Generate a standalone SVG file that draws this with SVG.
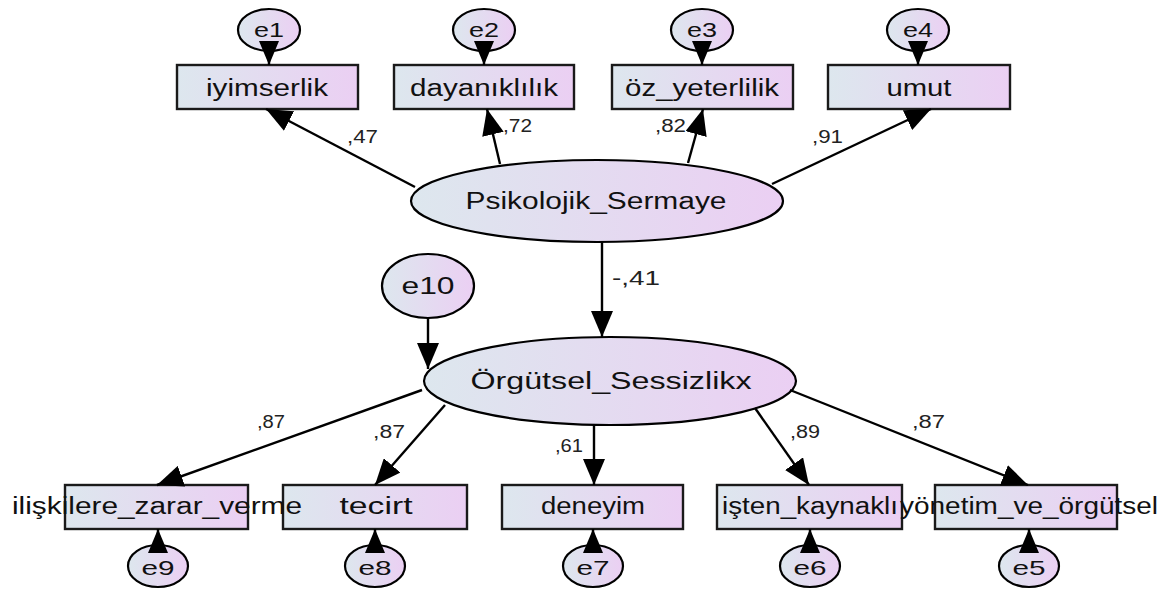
<svg xmlns="http://www.w3.org/2000/svg" width="1162" height="590" viewBox="0 0 1162 590">
<defs>
<linearGradient id="g" x1="0" y1="0" x2="1" y2="0">
<stop offset="0" stop-color="#dde7ee"/>
<stop offset="1" stop-color="#ebcff3"/>
</linearGradient>
<marker id="ah" markerUnits="userSpaceOnUse" markerWidth="26" markerHeight="22" viewBox="0 0 26 22" refX="26" refY="11" orient="auto">
<path d="M0,0 L26,11 L0,22 Z" fill="#000"/>
</marker>
<marker id="ahs" markerUnits="userSpaceOnUse" markerWidth="24" markerHeight="20" viewBox="0 0 24 20" refX="24" refY="10" orient="auto">
<path d="M0,0 L24,10 L0,20 Z" fill="#000"/>
</marker>
<style>
.box{fill:url(#g);stroke:#1a1a1a;stroke-width:2.4}
.el{fill:url(#g);stroke:#000;stroke-width:2.2}
.t{font-family:"Liberation Sans",Arial,sans-serif;font-size:23px;fill:#111;text-anchor:middle}
.s{font-family:"Liberation Sans",Arial,sans-serif;font-size:21px;fill:#111;text-anchor:middle}
.c{font-family:"Liberation Sans",Arial,sans-serif;font-size:18px;fill:#222}
.con line{stroke:#000;stroke-width:2.4;marker-end:url(#ah)}
.con line.er{marker-end:url(#ahs)}
</style>
</defs>
<rect width="1162" height="590" fill="#fff"/>

<g id="e1"><ellipse class="el" cx="269" cy="30" rx="31" ry="21"/><text class="s" x="269" y="37" textLength="30" lengthAdjust="spacingAndGlyphs">e1</text></g>
<g id="e2"><ellipse class="el" cx="484" cy="30" rx="31" ry="21"/><text class="s" x="484" y="37" textLength="30" lengthAdjust="spacingAndGlyphs">e2</text></g>
<g id="e3"><ellipse class="el" cx="702" cy="30" rx="31" ry="21"/><text class="s" x="702" y="37" textLength="30" lengthAdjust="spacingAndGlyphs">e3</text></g>
<g id="e4"><ellipse class="el" cx="918" cy="30" rx="31" ry="21"/><text class="s" x="918" y="37" textLength="30" lengthAdjust="spacingAndGlyphs">e4</text></g>

<g id="iyimserlik"><rect class="box" x="177" y="65" width="181" height="44"/><text class="t" x="267" y="96" textLength="122" lengthAdjust="spacingAndGlyphs">iyimserlik</text></g>
<g id="dayaniklilik"><rect class="box" x="394" y="65" width="180" height="44"/><text class="t" x="484" y="96" textLength="148" lengthAdjust="spacingAndGlyphs">dayanıklılık</text></g>
<g id="oz_yeterlilik"><rect class="box" x="612" y="65" width="181" height="44"/><text class="t" x="702" y="96" textLength="154" lengthAdjust="spacingAndGlyphs">öz_yeterlilik</text></g>
<g id="umut"><rect class="box" x="828" y="65" width="182" height="44"/><text class="t" x="919" y="96" textLength="65" lengthAdjust="spacingAndGlyphs">umut</text></g>

<g id="psikolojik"><ellipse class="el" cx="597" cy="201" rx="186" ry="41"/><text class="t" x="596" y="209" textLength="261" lengthAdjust="spacingAndGlyphs">Psikolojik_Sermaye</text></g>

<g id="e10"><ellipse class="el" cx="428" cy="286" rx="46" ry="32"/><text class="t" x="428" y="294" textLength="53" lengthAdjust="spacingAndGlyphs">e10</text></g>

<g id="orgutsel"><ellipse class="el" cx="610" cy="381" rx="186" ry="44"/><text class="t" x="611" y="389" textLength="281" lengthAdjust="spacingAndGlyphs">Örgütsel_Sessizlikx</text></g>

<g id="tecirt"><rect class="box" x="283" y="485" width="184" height="44"/><text class="t" x="376" y="514" textLength="73" lengthAdjust="spacingAndGlyphs">tecirt</text></g>
<g id="iliskilere"><rect class="box" x="65" y="485" width="183" height="44"/><text class="t" x="157" y="514" textLength="290" lengthAdjust="spacingAndGlyphs">ilişkilere_zarar_verme</text></g>
<g id="deneyim"><rect class="box" x="502" y="485" width="181" height="44"/><text class="t" x="593" y="514" textLength="104" lengthAdjust="spacingAndGlyphs">deneyim</text></g>
<g id="isten"><rect class="box" x="717" y="485" width="185" height="44"/><text class="t" x="810" y="514" textLength="176" lengthAdjust="spacingAndGlyphs">işten_kaynaklı</text></g>
<g id="yonetim"><rect class="box" x="935" y="485" width="182" height="44"/><text class="t" x="1029" y="514" textLength="258" lengthAdjust="spacingAndGlyphs">yönetim_ve_örgütsel</text></g>

<g id="e9"><ellipse class="el" cx="158" cy="566" rx="30" ry="21"/><text class="s" x="158" y="575" textLength="33" lengthAdjust="spacingAndGlyphs">e9</text></g>
<g id="e8"><ellipse class="el" cx="375" cy="566" rx="30" ry="21"/><text class="s" x="375" y="575" textLength="33" lengthAdjust="spacingAndGlyphs">e8</text></g>
<g id="e7"><ellipse class="el" cx="593" cy="566" rx="30" ry="21"/><text class="s" x="593" y="575" textLength="33" lengthAdjust="spacingAndGlyphs">e7</text></g>
<g id="e6"><ellipse class="el" cx="810" cy="566" rx="30" ry="21"/><text class="s" x="810" y="575" textLength="33" lengthAdjust="spacingAndGlyphs">e6</text></g>
<g id="e5"><ellipse class="el" cx="1029" cy="566" rx="30" ry="21"/><text class="s" x="1029" y="575" textLength="33" lengthAdjust="spacingAndGlyphs">e5</text></g>

<g class="con">
<line class="er" x1="269" y1="51" x2="269" y2="65"/>
<line class="er" x1="484" y1="51" x2="484" y2="65"/>
<line class="er" x1="702" y1="51" x2="702" y2="65"/>
<line class="er" x1="918" y1="51" x2="918" y2="65"/>
<line x1="415" y1="187" x2="266" y2="109"/>
<line x1="500" y1="164" x2="487" y2="109"/>
<line x1="688" y1="163" x2="703" y2="109"/>
<line x1="772" y1="184" x2="931" y2="109"/>
<line x1="602" y1="242" x2="602" y2="337"/>
<line x1="428" y1="318" x2="428" y2="369"/>
<line x1="422" y1="390" x2="157" y2="485"/>
<line x1="445" y1="405" x2="375" y2="485"/>
<line x1="594" y1="425" x2="594" y2="485"/>
<line x1="755" y1="408" x2="809" y2="485"/>
<line x1="790" y1="390" x2="1028" y2="485"/>
<line class="er" x1="158" y1="545" x2="158" y2="529"/>
<line class="er" x1="375" y1="545" x2="375" y2="529"/>
<line class="er" x1="593" y1="545" x2="593" y2="529"/>
<line class="er" x1="810" y1="545" x2="810" y2="529"/>
<line class="er" x1="1029" y1="545" x2="1029" y2="529"/>
<text class="c" x="347" y="143" textLength="31" lengthAdjust="spacingAndGlyphs">,47</text>
<text class="c" x="503" y="132" textLength="29" lengthAdjust="spacingAndGlyphs">,72</text>
<text class="c" x="655" y="132" textLength="31" lengthAdjust="spacingAndGlyphs">,82</text>
<text class="c" x="812" y="143" textLength="31" lengthAdjust="spacingAndGlyphs">,91</text>
<text class="c" x="612" y="285" style="font-size:21px" textLength="48" lengthAdjust="spacingAndGlyphs">-,41</text>
<text class="c" x="257" y="428" textLength="28" lengthAdjust="spacingAndGlyphs">,87</text>
<text class="c" x="373" y="438" textLength="32" lengthAdjust="spacingAndGlyphs">,87</text>
<text class="c" x="555" y="452" textLength="28" lengthAdjust="spacingAndGlyphs">,61</text>
<text class="c" x="790" y="438" textLength="30" lengthAdjust="spacingAndGlyphs">,89</text>
<text class="c" x="912" y="428" textLength="33" lengthAdjust="spacingAndGlyphs">,87</text>
</g>
</svg>
